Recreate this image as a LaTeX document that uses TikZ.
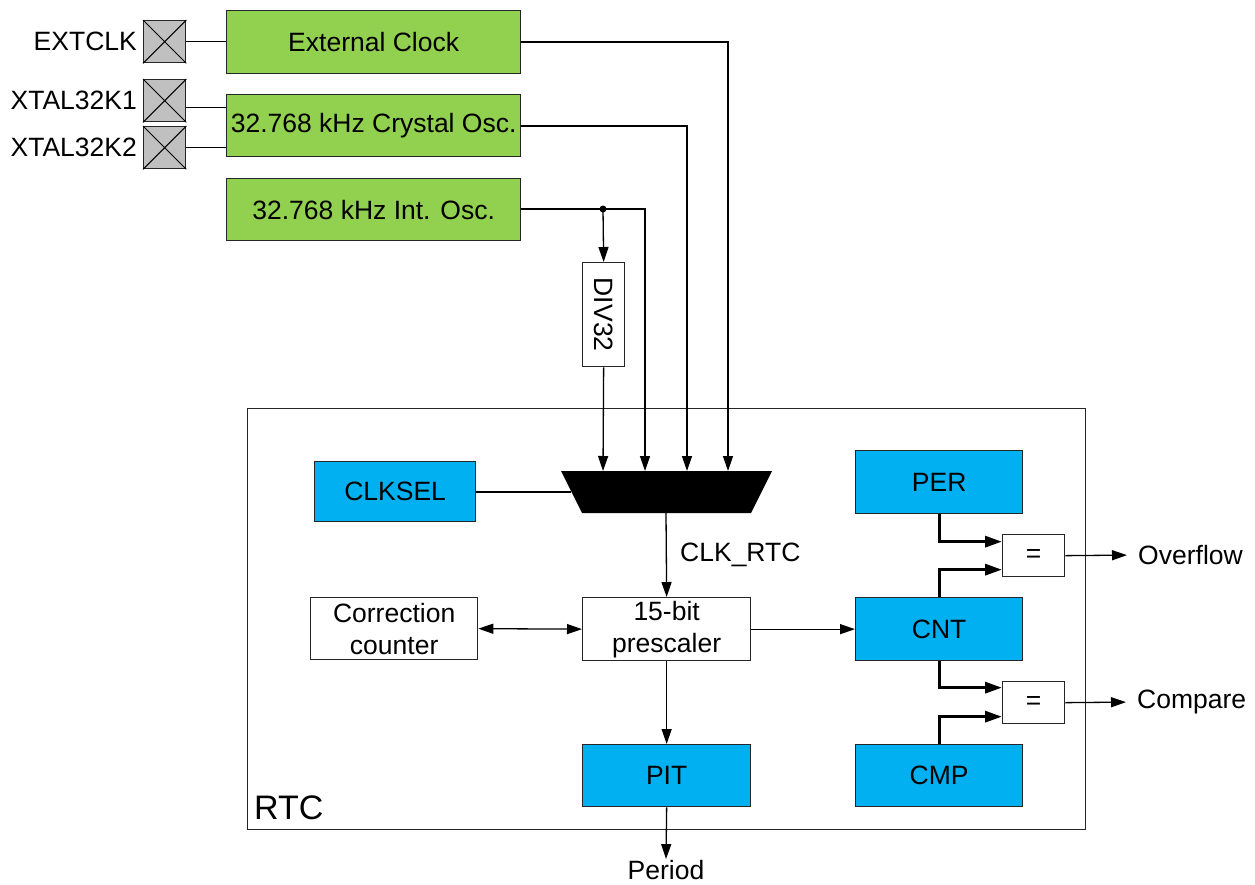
\documentclass[tikz,border=0pt]{standalone}
\usepackage{fontspec}
\setmainfont{Liberation Sans}
\usetikzlibrary{arrows.meta,calc}
\definecolor{grn}{HTML}{92D050}
\definecolor{blu}{HTML}{00B0F0}
\definecolor{padgray}{HTML}{C0C0C0}
\begin{document}
\begin{tikzpicture}[x=1pt,y=-1pt,
  font=\fontsize{26.5}{32}\selectfont,
  box/.style={draw=black!85, line width=1.3pt, inner sep=0pt, anchor=north west, align=center},
  gbox/.style={box, fill=grn},
  bbox/.style={box, fill=blu},
  pad/.style={draw=black!85, line width=1.3pt, fill=padgray, inner sep=0pt, minimum width=42pt, minimum height=42pt, anchor=north west},
  lbl/.style={inner sep=0pt},
  ln/.style={line width=1.3pt},
  arr/.style={line width=1.3pt, -{Triangle[length=15pt,width=10pt]}},
  arrb/.style={line width=1.3pt, {Triangle[length=15pt,width=10pt]}-{Triangle[length=15pt,width=10pt]}},
  thk/.style={line width=3.2pt, -{Triangle[length=17pt,width=11pt]}},
]
\useasboundingbox (0,0) rectangle (1255,884);

% RTC frame
\node[box, minimum width=838pt, minimum height=421pt] (rtc) at (247,408) {};
\node[lbl, font=\fontsize{34}{40}\selectfont, anchor=south west] (rtclbl) at (254,820) {RTC};

% pads
\node[pad] (p1) at (143,20) {};
\node[pad] (p2) at (143,79) {};
\node[pad] (p3) at (143,126) {};
\foreach \p in {p1,p2,p3}{
  \draw[line width=1pt] (\p.north west) -- (\p.south east) (\p.north east) -- (\p.south west);
}
\node[lbl, anchor=east] (l1) at (137,41) {EXTCLK};
\node[lbl, anchor=east] (l2) at (137,100) {XTAL32K1};
\node[lbl, anchor=east] (l3) at (137,147) {XTAL32K2};

% oscillators
\node[gbox, minimum width=294pt, minimum height=63pt] (ext) at (226,10) {External Clock};
\node[gbox, minimum width=294pt, minimum height=62pt] (xo) at (226,94) {32.768 kHz Crystal Osc.};
\node[gbox, minimum width=294pt, minimum height=62pt] (io) at (226,178) {32.768 kHz Int. Osc.};

\draw[ln] (p1.east) -- (p1.east -| ext.west);
\draw[ln] ([yshift=-7pt]p2.east) -- ([yshift=-7pt]p2.east -| xo.west);
\draw[ln] (p3.east) -- (p3.east -| xo.west);

% DIV32
\node[box, minimum width=42pt, minimum height=104pt] (div) at (582,262) {};
\node[lbl, rotate=-90] (divt) at (div.center) {DIV32};

% mux
\fill (561,471) -- (772,471) -- (751,513) -- (582,513) -- cycle;
\coordinate (m1) at (603,471);
\coordinate (m2) at (645,471);
\coordinate (m3) at (687,471);
\coordinate (m4) at (728,471);
\coordinate (mout) at (666,513);
\coordinate (msel) at (571,492);

\coordinate (dot) at (603,209);
\draw[arr] (ext.east |- 0,42) -| (m4);
\draw[arr] (xo.east |- 0,126) -| (m3);
\draw[arr] (io.east |- dot) -| (m2);
\fill (dot) circle (3.5pt);
\draw[arr] (dot) -- (div.north);
\draw[arr] (div.south) -- (m1);

% inner blocks
\node[bbox, minimum width=161pt, minimum height=60pt] (clksel) at (314,461) {CLKSEL};
\node[box, minimum width=167pt, minimum height=62pt] (cc) at (310,597) {Correction\\counter};
\node[box, minimum width=168pt, minimum height=63pt] (pre) at (582,597) {15-bit\\prescaler};
\node[bbox, minimum width=168pt, minimum height=62pt] (pit) at (582,744) {PIT};
\node[bbox, minimum width=167pt, minimum height=63pt] (per) at (855,450) {PER};
\node[bbox, minimum width=167pt, minimum height=63pt] (cnt) at (855,597) {CNT};
\node[bbox, minimum width=167pt, minimum height=62pt] (cmp) at (855,744) {CMP};
\node[box, minimum width=62pt, minimum height=42pt] (eq1) at (1002,534) {=};
\node[box, minimum width=62pt, minimum height=42pt] (eq2) at (1002,681) {=};

\draw[ln] (clksel.east |- msel) -- (msel);
\draw[arr] (mout) -- (pre.north);
\node[lbl, anchor=west] (clkrtc) at (680,555) {CLK\_RTC};
\draw[arrb] (cc.east) -- (pre.west);
\draw[arr] (pre.east) -- (cnt.west);
\draw[arr] (pre.south) -- (pit.north);
\node[lbl] (period) at (666,870) {Period};
\draw[arr, shorten >=1pt] (pit.south) -- (period.north);

\draw[thk] (per.south) |- ([yshift=14pt]eq1.west);
\draw[thk] (cnt.north) |- ([yshift=-14pt]eq1.west);
\draw[thk] (cnt.south) |- ([yshift=15pt]eq2.west);
\draw[thk] (cmp.north) |- ([yshift=-14pt]eq2.west);

\node[lbl, anchor=west] (ovf) at (1138,555) {Overflow};
\node[lbl, anchor=west] (cmpo) at (1137,702) {Compare};
\draw[arr, shorten >=11pt] (eq1.east) -- (ovf.west);
\draw[arr, shorten >=11pt] (eq2.east) -- (cmpo.west);
\end{tikzpicture}
\end{document}
